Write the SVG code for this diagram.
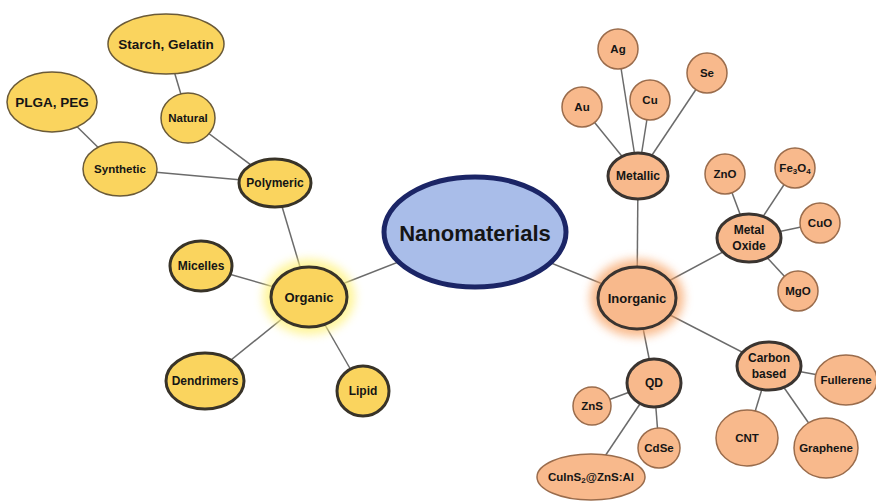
<svg xmlns="http://www.w3.org/2000/svg" width="876" height="501" viewBox="0 0 876 501">
<defs>
<style>
text{font-family:"Liberation Sans",Arial,sans-serif;font-weight:bold;fill:#151515;text-anchor:middle;dominant-baseline:central}
.y{fill:#fad45e;stroke:#6a5a38;stroke-width:1.5}
.yb{fill:#fad45e;stroke:#383328;stroke-width:3}
.o{fill:#f8b98c;stroke:#9a6c4c;stroke-width:1.5}
.ob{fill:#f8b98c;stroke:#3a3430;stroke-width:3}
.c line{stroke:#6b6b6b;stroke-width:1.5}
.s{font-size:12px}
.l{font-size:11.5px}
.m{font-size:13px}
.sub{font-size:8px}
</style>
<filter id="glow" x="-50%" y="-50%" width="200%" height="200%"><feGaussianBlur stdDeviation="5"/></filter>
</defs>
<rect width="876" height="501" fill="#ffffff"/>
<g class="c" id="connectors">
<line x1="475" y1="232" x2="309" y2="297"/>
<line x1="475" y1="232" x2="637" y2="298"/>
<line x1="309" y1="297" x2="275" y2="183"/>
<line x1="309" y1="297" x2="201" y2="266"/>
<line x1="309" y1="297" x2="205" y2="381"/>
<line x1="309" y1="297" x2="363" y2="391"/>
<line x1="275" y1="183" x2="188" y2="118"/>
<line x1="275" y1="183" x2="120" y2="169"/>
<line x1="188" y1="118" x2="166" y2="44"/>
<line x1="120" y1="169" x2="52" y2="102"/>
<line x1="637" y1="298" x2="638" y2="176"/>
<line x1="637" y1="298" x2="749" y2="238"/>
<line x1="637" y1="298" x2="654" y2="383"/>
<line x1="637" y1="298" x2="769" y2="366"/>
<line x1="638" y1="176" x2="582" y2="107"/>
<line x1="638" y1="176" x2="618" y2="49"/>
<line x1="638" y1="176" x2="650" y2="100"/>
<line x1="638" y1="176" x2="707" y2="73"/>
<line x1="749" y1="238" x2="725" y2="174"/>
<line x1="749" y1="238" x2="795" y2="168"/>
<line x1="749" y1="238" x2="820" y2="223"/>
<line x1="749" y1="238" x2="798" y2="291"/>
<line x1="654" y1="383" x2="592" y2="406"/>
<line x1="654" y1="383" x2="659" y2="448"/>
<line x1="654" y1="383" x2="591" y2="477"/>
<line x1="769" y1="366" x2="846" y2="380"/>
<line x1="769" y1="366" x2="747" y2="438"/>
<line x1="769" y1="366" x2="826" y2="448"/>
</g>
<g id="nanomaterials">
<ellipse cx="475" cy="232" rx="91" ry="55" fill="#a9bde9" stroke="#1b2566" stroke-width="5"/>
<text x="475" y="233" style="font-size:22px">Nanomaterials</text>
</g>
<g id="organic">
<ellipse cx="309" cy="297" rx="46" ry="38" fill="#fff27a" opacity="0.75" filter="url(#glow)"/>
<ellipse class="yb" cx="309" cy="297" rx="38" ry="30"/>
<text class="m" x="309" y="297">Organic</text>
</g>
<g id="polymeric"><ellipse class="yb" cx="275" cy="183" rx="36" ry="24"/><text class="s" x="275" y="183">Polymeric</text></g>
<g id="micelles"><ellipse class="yb" cx="201" cy="266" rx="31" ry="25"/><text class="s" x="201" y="266">Micelles</text></g>
<g id="dendrimers"><ellipse class="yb" cx="205" cy="381" rx="39" ry="28"/><text class="s" x="205" y="381">Dendrimers</text></g>
<g id="lipid"><ellipse class="yb" cx="363" cy="391" rx="26" ry="25"/><text class="s" x="363" y="391">Lipid</text></g>
<g id="natural"><ellipse class="y" cx="188" cy="118" rx="27" ry="25"/><text class="l" x="188" y="118">Natural</text></g>
<g id="synthetic"><ellipse class="y" cx="120" cy="169" rx="37" ry="27"/><text class="l" x="120" y="169">Synthetic</text></g>
<g id="starch"><ellipse class="y" cx="166" cy="44" rx="58" ry="30" stroke-width="2"/><text x="166" y="44" style="font-size:13.5px">Starch, Gelatin</text></g>
<g id="plga"><ellipse class="y" cx="52" cy="102" rx="45" ry="30" stroke-width="2"/><text x="52" y="102" style="font-size:13.5px">PLGA, PEG</text></g>
<g id="inorganic">
<ellipse cx="637" cy="298" rx="47" ry="39" fill="#f7a060" opacity="0.7" filter="url(#glow)"/>
<ellipse class="ob" cx="637" cy="298" rx="39" ry="31"/>
<text class="m" x="637" y="298">Inorganic</text>
</g>
<g id="metallic"><ellipse class="ob" cx="638" cy="176" rx="30" ry="23"/><text class="s" x="638" y="176">Metallic</text></g>
<g id="metaloxide"><ellipse class="ob" cx="749" cy="238" rx="32" ry="24"/><text class="s" x="749" y="230">Metal</text><text class="s" x="749" y="246">Oxide</text></g>
<g id="qd"><ellipse class="ob" cx="654" cy="383" rx="27" ry="24"/><text class="s" x="654" y="383">QD</text></g>
<g id="carbon"><ellipse class="ob" cx="769" cy="366" rx="32" ry="24"/><text class="s" x="769" y="358">Carbon</text><text class="s" x="769" y="374">based</text></g>
<g id="au"><circle class="o" cx="582" cy="107" r="20"/><text class="l" x="582" y="107">Au</text></g>
<g id="ag"><circle class="o" cx="618" cy="49" r="20"/><text class="l" x="618" y="49">Ag</text></g>
<g id="cu"><circle class="o" cx="650" cy="100" r="20"/><text class="l" x="650" y="100">Cu</text></g>
<g id="se"><circle class="o" cx="707" cy="73" r="20"/><text class="l" x="707" y="73">Se</text></g>
<g id="zno"><circle class="o" cx="725" cy="174" r="20"/><text class="l" x="725" y="174">ZnO</text></g>
<g id="fe3o4"><circle class="o" cx="795" cy="168" r="20"/><text class="l" x="795" y="168">Fe<tspan class="sub" dy="3">3</tspan><tspan dy="-3">O</tspan><tspan class="sub" dy="3">4</tspan></text></g>
<g id="cuo"><circle class="o" cx="820" cy="223" r="20"/><text class="l" x="820" y="223">CuO</text></g>
<g id="mgo"><circle class="o" cx="798" cy="291" r="20"/><text class="l" x="798" y="291">MgO</text></g>
<g id="zns"><circle class="o" cx="592" cy="406" r="19"/><text class="l" x="592" y="406">ZnS</text></g>
<g id="cdse"><ellipse class="o" cx="659" cy="448" rx="21" ry="20"/><text class="l" x="659" y="448">CdSe</text></g>
<g id="cuins2"><ellipse class="o" cx="591" cy="477" rx="54" ry="23"/><text class="l" x="591" y="477">CuInS<tspan class="sub" dy="3">2</tspan><tspan dy="-3">@ZnS:Al</tspan></text></g>
<g id="fullerene"><ellipse class="o" cx="846" cy="380" rx="31" ry="25"/><text class="l" x="846" y="380">Fullerene</text></g>
<g id="cnt"><ellipse class="o" cx="747" cy="438" rx="31" ry="28"/><text class="l" x="747" y="438">CNT</text></g>
<g id="graphene"><ellipse class="o" cx="826" cy="448" rx="32" ry="30"/><text class="l" x="826" y="448">Graphene</text></g>
</svg>
